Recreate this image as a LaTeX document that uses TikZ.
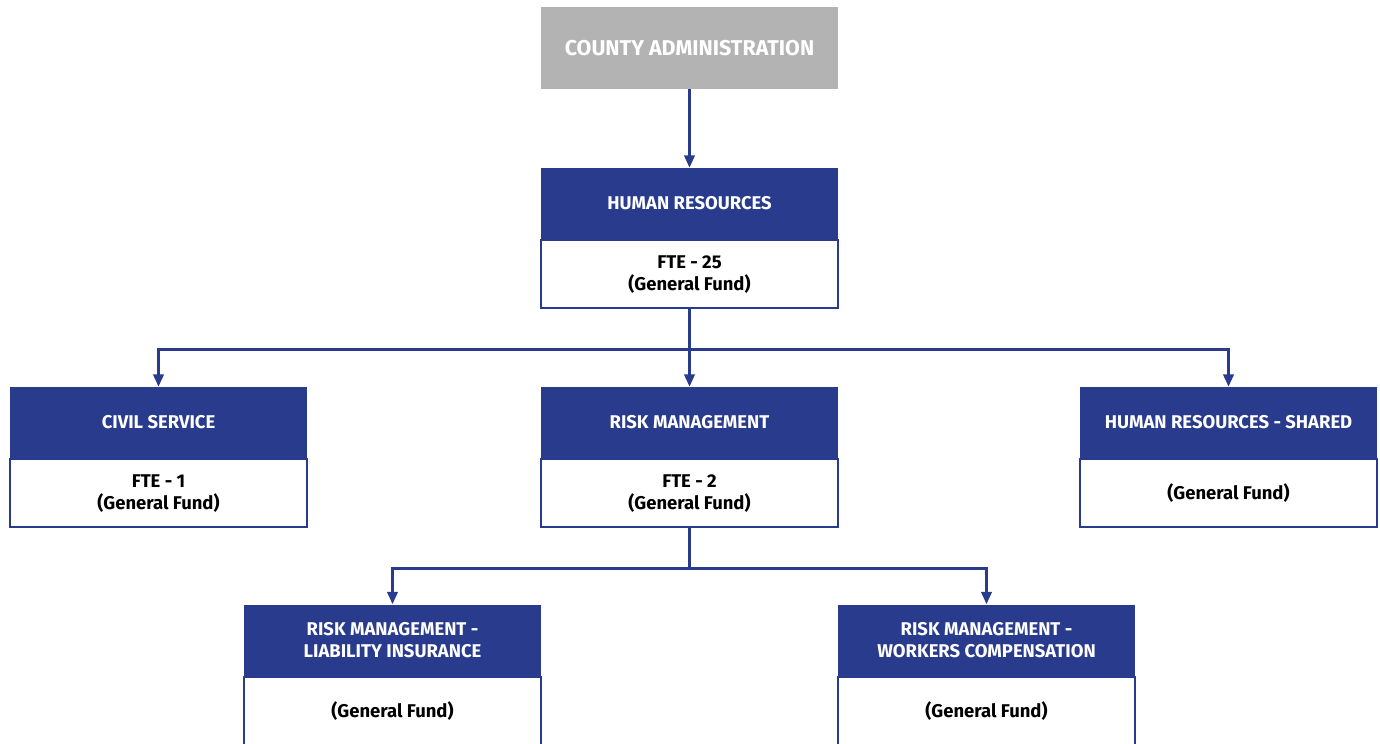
\documentclass[tikz,border=0pt]{standalone}
\usepackage{fontspec}
\setmainfont{Fira Sans}
\usepackage{tikz}
\usetikzlibrary{arrows.meta,positioning,calc}
\definecolor{hrblue}{HTML}{283B8C}
\definecolor{topgray}{HTML}{B3B3B3}
\begin{document}
\begin{tikzpicture}[
  font=\fontsize{10.5}{12.5}\selectfont\bfseries,
  top/.style={fill=topgray, text=white, minimum width=5.94cm, minimum height=1.64cm, inner sep=0pt, font=\fontsize{12.2}{15}\selectfont\bfseries},
  head/.style={fill=hrblue, text=white, minimum width=5.94cm, minimum height=1.42cm, inner sep=0pt, align=center},
  body/.style={draw=hrblue, line width=1.2pt, fill=white, text=black, minimum width=5.94cm, minimum height=1.36cm, inner sep=0pt, align=center},
  link/.style={draw=hrblue, line width=1.3pt},
  flow/.style={link, -{Triangle[length=7pt, width=6pt]}},
]
  \useasboundingbox (0,0) rectangle (27.6,-14.86);

  % Top level
  \node[top] (county) at (13.79,-0.96) {COUNTY ADMINISTRATION};

  % Department
  \node[head] (hr) at (13.79,-4.07) {HUMAN RESOURCES};
  \node[body, below=0pt of hr] (hrbody) {FTE - 25\\(General Fund)};

  % Second row
  \node[head] (civil) at (3.17,-8.45) {CIVIL SERVICE};
  \node[body, below=0pt of civil] (civilbody) {FTE - 1\\(General Fund)};
  \node[head] (risk) at (13.79,-8.45) {RISK MANAGEMENT};
  \node[body, below=0pt of risk] (riskbody) {FTE - 2\\(General Fund)};
  \node[head] (shared) at (24.57,-8.45) {HUMAN RESOURCES - SHARED};
  \node[body, below=0pt of shared] (sharedbody) {(General Fund)};

  % Third row
  \node[head] (liab) at (7.85,-12.8) {RISK MANAGEMENT -\\LIABILITY INSURANCE};
  \node[body, below=0pt of liab] (liabbody) {(General Fund)};
  \node[head] (comp) at (19.73,-12.8) {RISK MANAGEMENT -\\WORKERS COMPENSATION};
  \node[body, below=0pt of comp] (compbody) {(General Fund)};

  % Connectors
  \draw[flow] (county.south) -- (hr.north);

  \coordinate (split1) at ($(hrbody.south)+(0,-0.8)$);
  \draw[link] (hrbody.south) -- (split1);
  \draw[flow] (split1) -| (civil.north);
  \draw[flow] (split1) -- (risk.north);
  \draw[flow] (split1) -| (shared.north);

  \coordinate (split2) at ($(riskbody.south)+(0,-0.8)$);
  \draw[link] (riskbody.south) -- (split2);
  \draw[flow] (split2) -| (liab.north);
  \draw[flow] (split2) -| (comp.north);
\end{tikzpicture}
\end{document}
